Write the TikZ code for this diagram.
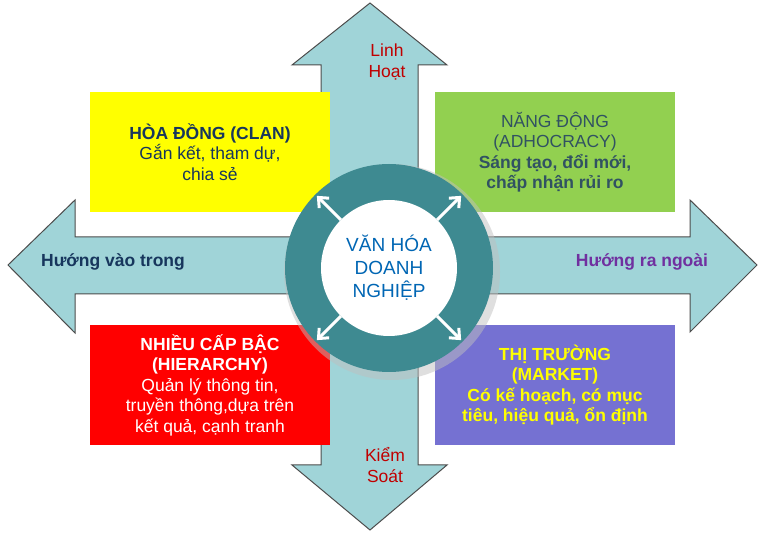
\documentclass[tikz,border=0pt]{standalone}
\usepackage{fontspec}
\setmainfont{Liberation Sans}
\usetikzlibrary{arrows.meta}
\definecolor{shaftfill}{RGB}{160,212,216}
\definecolor{ringteal}{RGB}{62,138,145}
\definecolor{boxyellow}{RGB}{255,255,0}
\definecolor{boxgreen}{RGB}{146,208,80}
\definecolor{boxred}{RGB}{255,0,0}
\definecolor{boxpurple}{RGB}{117,113,210}
\definecolor{navytext}{RGB}{23,54,93}
\definecolor{slatetext}{RGB}{49,82,98}
\definecolor{axisred}{RGB}{192,0,0}
\definecolor{axispurple}{RGB}{112,48,160}
\definecolor{centerblue}{RGB}{0,102,180}
\newcommand{\bigtext}{\fontsize{17.5}{20.5}\selectfont}
\tikzset{
  quad/.style={minimum width=240pt,minimum height=120pt,align=center,font=\bigtext,inner sep=2pt},
  axislabel/.style={font=\bigtext\bfseries,align=center},
  spoke/.style={white,line width=3pt,-{Straight Barb[length=8pt,width=14pt]}}
}
\begin{document}
\begin{tikzpicture}[x=1pt,y=-1pt]
  \useasboundingbox (0,0) rectangle (766,534);
  % cross of arrows
  \draw[fill=shaftfill,draw=black!70,line width=1pt]
    (321,65) -- (292,65) -- (370,3) -- (447,65) -- (418,65) -- (418,237)
    -- (690,237) -- (690,200) -- (757,265) -- (690,332) -- (690,294) -- (418,294)
    -- (418,465) -- (447,465) -- (370,530) -- (292,465) -- (321,465) -- (321,294)
    -- (75,294) -- (75,333) -- (8,265) -- (75,200) -- (75,237) -- (321,237) -- cycle;
  % quadrants
  \node[quad,fill=boxyellow,text=navytext] (clan) at (210,152)
    {\textbf{HÒA ĐỒNG (CLAN)}\\Gắn kết, tham dự,\\chia sẻ};
  \node[quad,fill=boxgreen,text=slatetext] (adhoc) at (555,152)
    {NĂNG ĐỘNG\\(ADHOCRACY)\\\textbf{Sáng tạo, đổi mới,}\\\textbf{chấp nhận rủi ro}};
  \node[quad,fill=boxred,text=white] (hier) at (210,385)
    {\textbf{NHIỀU CẤP BẬC}\\\textbf{(HIERARCHY)}\\Quản lý thông tin,\\truyền thông,dựa trên\\kết quả, cạnh tranh};
  \node[quad,fill=boxpurple,text=boxyellow,font=\bigtext\bfseries] (market) at (555,385)
    {THỊ TRƯỜNG\\(MARKET)\\Có kế hoạch, có mục\\tiêu, hiệu quả, ổn định};
  % axis labels
  \node[axislabel,text=axisred,font=\bigtext] (flex) at (387,62) {Linh\\Hoạt};
  \node[axislabel,text=axisred,font=\bigtext] (ctrl) at (385,465) {Kiểm\\Soát};
  \node[axislabel,text=navytext] (inward) at (113,262) {Hướng vào trong};
  \node[axislabel,text=axispurple] (outward) at (642,262) {Hướng ra ngoài};
  % centre
  \fill[black!25,opacity=0.5] (392,272) circle (108);
  \fill[ringteal] (389,268) circle (104);
  \fill[white] (389,268) circle (68);
  \node[text=centerblue,font=\fontsize{19}{23}\selectfont,align=center] (core) at (389,268) {VĂN HÓA\\DOANH\\NGHIỆP};
  \foreach \ang in {45,135,225,315}
    \draw[spoke] (389,268) ++(\ang:-68) -- ++(\ang:-34);
\end{tikzpicture}
\end{document}
